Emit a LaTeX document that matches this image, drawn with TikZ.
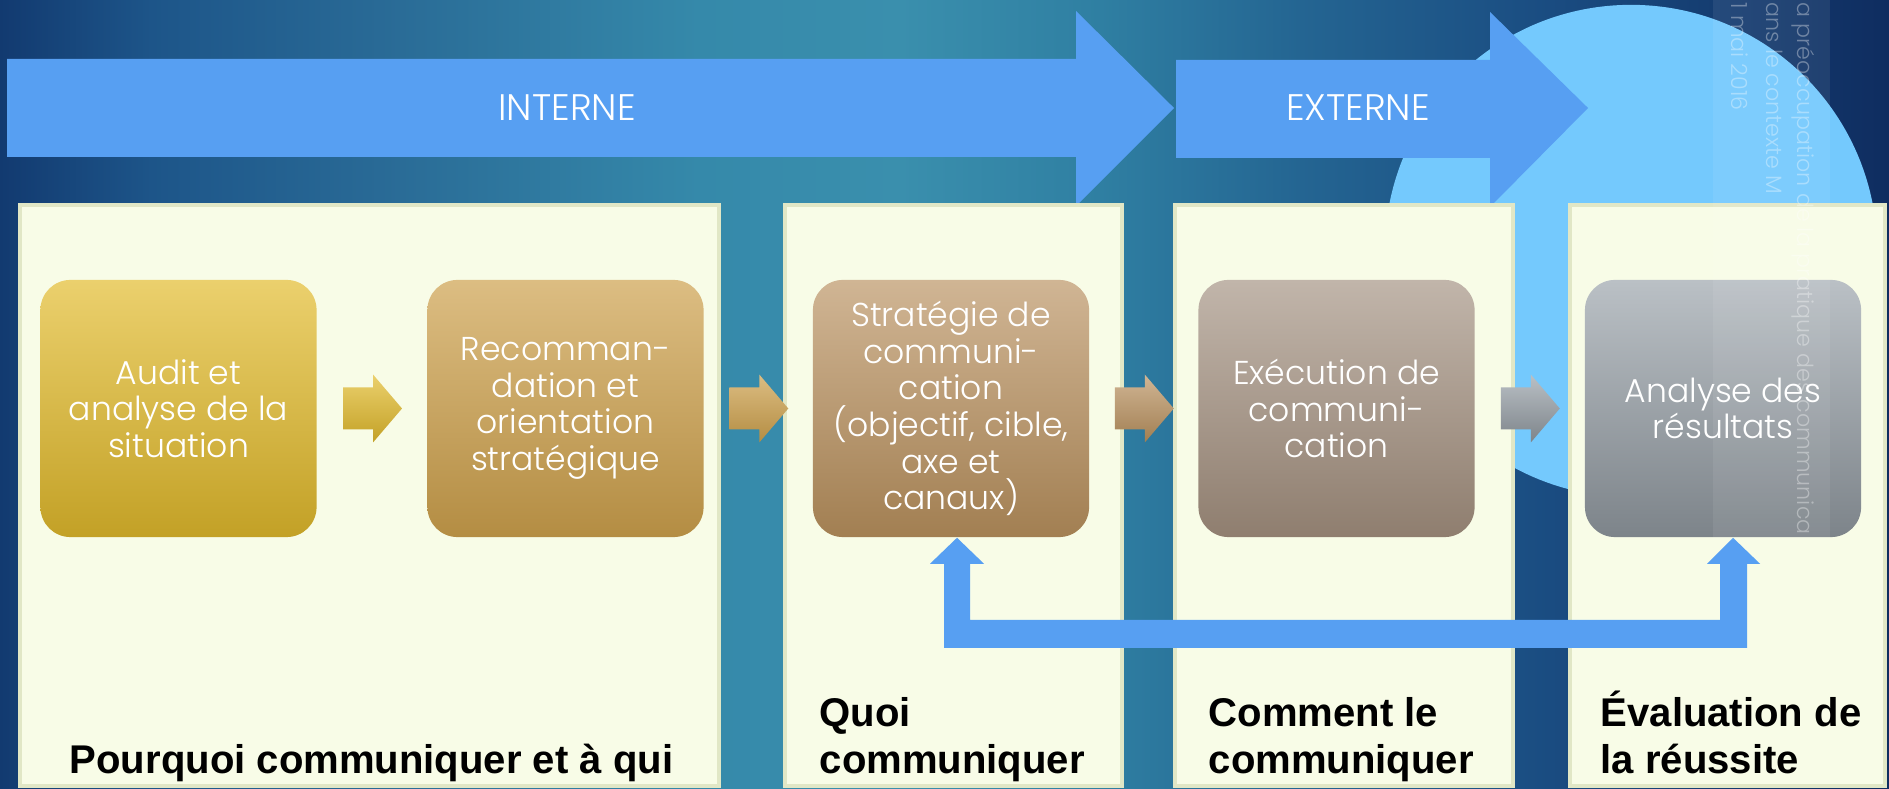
\documentclass[tikz,border=0pt]{standalone}
\usepackage{fontspec}
\setmainfont{Poppins}[UprightFont={* Light}]
\newfontfamily\labelfont{Liberation Sans}
\usepackage{xcolor}
\usepackage{tikz}
\usetikzlibrary{calc}

\definecolor{bgA}{HTML}{123A70}
\definecolor{bgB}{HTML}{1D5589}
\definecolor{bgC}{HTML}{2A6C97}
\definecolor{bgD}{HTML}{3589AA}
\definecolor{bgE}{HTML}{3A8FAD}
\definecolor{bgF}{HTML}{2F7FA2}
\definecolor{bgG}{HTML}{246592}
\definecolor{bgH}{HTML}{1A4C81}
\definecolor{bgI}{HTML}{0F2D60}
\definecolor{flowblue}{HTML}{579FF2}
\definecolor{circleblue}{HTML}{74C9FD}
\definecolor{panelcream}{HTML}{F8FCE7}
\definecolor{panelrim}{HTML}{E1E7C6}
\definecolor{auditTop}{HTML}{EBD06D}
\definecolor{auditBot}{HTML}{C3A126}
\definecolor{recomTop}{HTML}{DCBD82}
\definecolor{recomBot}{HTML}{B48D43}
\definecolor{stratTop}{HTML}{D0B594}
\definecolor{stratBot}{HTML}{A27F52}
\definecolor{execTop}{HTML}{C1B5AA}
\definecolor{execBot}{HTML}{8F7E6F}
\definecolor{resTop}{HTML}{BAC0C5}
\definecolor{resBot}{HTML}{7D848A}

\pgfdeclarehorizontalshading{slidebg}{100bp}{color(0bp)=(bgA); color(25bp)=(bgA);
  color(29bp)=(bgB); color(35.6bp)=(bgC); color(43.5bp)=(bgD); color(48.8bp)=(bgE);
  color(54.1bp)=(bgF); color(59.4bp)=(bgG); color(66bp)=(bgH); color(75bp)=(bgI); color(100bp)=(bgI)}

% block arrow between two steps: centre, top colour, bottom colour
\newcommand{\stepArrow}[3]{%
  \shade[top color=#2, bottom color=#3] ($(#1)+(-29,-21)$) -- ($(#1)+(1,-21)$) -- ($(#1)+(1,-34)$)
    -- ($(#1)+(30,0)$) -- ($(#1)+(1,34)$) -- ($(#1)+(1,21)$) -- ($(#1)+(-29,21)$) -- cycle;}

\begin{document}
\begin{tikzpicture}[x=0.01cm, y=-0.01cm,
	stage/.style={rounded corners=0.3cm, minimum width=2.76cm, minimum height=2.57cm, inner sep=0pt,
		align=center, text=white, font=\fontsize{9.4}{10.4}\selectfont},
	phase/.style={anchor=base west, align=left, text=black, inner xsep=0pt,
		font=\labelfont\fontsize{11.4}{13.1}\selectfont\bfseries},
	panel/.style={fill=panelcream, draw=panelrim, line width=0.045cm},
	flowtext/.style={text=white, font=\fontsize{10.5}{12}\selectfont},
	wmark/.style={rotate=-90, anchor=west, text=white, opacity=0.35, inner sep=0pt,
		font=\fontsize{6.3}{7}\selectfont}]
	\useasboundingbox (0,0) rectangle (1889,789);
	\clip (0,0) rectangle (1889,789);
	\shade[shading=slidebg] (0,0) rectangle (1889,789);
	\fill[circleblue] (1631,251) circle[radius=2.46cm];

	% interne / externe
	\fill[flowblue] (7,59) -- (1076,59) -- (1076,11) -- (1174,108) -- (1076,206) -- (1076,157) -- (7,157) -- cycle;
	\fill[flowblue] (1176,60) -- (1490,60) -- (1490,12) -- (1588,108) -- (1490,207) -- (1490,158) -- (1176,158) -- cycle;
	\node[flowtext] (int) at (567,108) {INTERNE};
	\node[flowtext] (ext) at (1358,108) {EXTERNE};

	% panels
	\draw[panel] (20,205) rectangle (719,786);
	\draw[panel] (785,205) rectangle (1122,786);
	\draw[panel] (1175,205) rectangle (1513,786);
	\draw[panel] (1570,205) rectangle (1885,786);

	% steps
	\node[stage, top color=auditTop, bottom color=auditBot] (audit) at (178.5,408.5) {Audit et\\analyse de la\\situation};
	\node[stage, top color=recomTop, bottom color=recomBot] (recom) at (565.5,408.5) {Recomman-\\dation et\\orientation\\stratégique};
	\node[stage, top color=stratTop, bottom color=stratBot] (strat) at (951,408.5) {Stratégie de\\communi-\\cation\\(objectif, cible,\\axe et\\canaux)};
	\node[stage, top color=execTop, bottom color=execBot] (exec) at (1336.5,408.5) {Exécution de\\communi-\\cation};
	\node[stage, top color=resTop, bottom color=resBot] (res) at (1723,408.5) {Analyse des\\résultats};

	\coordinate (a1) at ($(audit.east)!.5!(recom.west)$);
	\coordinate (a2) at ($(recom.east)!.5!(strat.west)$);
	\coordinate (a3) at ($(strat.east)!.5!(exec.west)$);
	\coordinate (a4) at ($(exec.east)!.5!(res.west)$);
	\stepArrow{a1}{auditTop}{auditBot}
	\stepArrow{a2}{recomTop}{recomBot}
	\stepArrow{a3}{stratTop}{stratBot}
	\stepArrow{a4}{resTop}{resBot}

	% feedback
	\coordinate (fbL) at ($(strat.south)+(6,0)$);
	\coordinate (fbR) at ($(res.south)+(10,0)$);
	\fill[flowblue] (fbL) -- ++(27,26) -- ++(-14,0) -- ++(0,56) -- ($(fbR)+(-13,82)$) -- ++(0,-56) -- ++(-13,0)
		-- (fbR) -- ++(27,26) -- ++(-13,0) -- ++(0,84) -- ($(fbL)+(-13,110)$) -- ++(0,-84) -- ++(-14,0) -- cycle;

	\node[phase] (why) at (69,773) {Pourquoi communiquer et à qui};
	\node[phase] (what) at (819,773) {Quoi\\communiquer};
	\node[phase] (how) at (1208,773) {Comment le\\communiquer};
	\node[phase] (eval) at (1600,773) {Évaluation de\\la réussite};

	\fill[white, opacity=0.07] (1713,0) rectangle (1830,540);
	\node[wmark] (wm1) at (1803,2) {a préoccupation de la pratique des communica};
	\node[wmark] (wm2) at (1775,2) {ans le contexte M};
	\node[wmark] (wm3) at (1740,2) {1 mai 2016};
\end{tikzpicture}
\end{document}
